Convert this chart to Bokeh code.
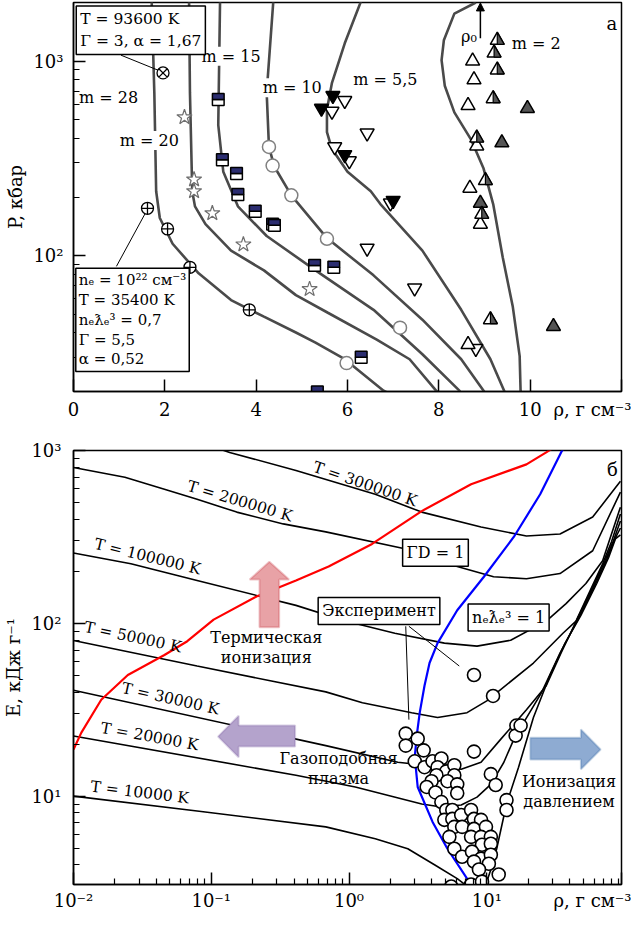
from bokeh.plotting import figure
from bokeh.layouts import column
from bokeh.models import FixedTicker, Label, PolyAnnotation, Arrow, NormalHead
from bokeh.embed import file_html
from bokeh.resources import INLINE

FONT = "DejaVu Serif"

# ---------------- panel а : isentropes  (rho, g/cm3 ; P, kbar) ----------------
isA_rho = [1.71, 1.77, 1.81, 1.89, 2.17, 2.74, 3.45, 4.17, 4.87, 5.30, 5.94, 6.79, 7.2]
isA_P = [2100, 688, 214, 156, 115, 81, 59, 48.5, 40.2, 35.7, 29.3, 20.2, 18]
isB_rho = [2.53, 2.55, 2.60, 2.66, 2.89, 3.45, 4.17, 4.87, 5.57, 6.64, 7.36, 7.94, 8.2]
isB_P = [2100, 688, 214, 179, 145, 106, 83.9, 62.6, 50.8, 37.0, 29.3, 20.2, 18]
isC_rho = [3.21, 3.17, 3.28, 3.60, 4.23, 5.30, 6.57, 7.64, 8.45, 8.6]
isC_P = [2100, 468, 270, 179, 126, 83.9, 52.6, 31.1, 20.2, 18]
isD_rho = [4.38, 4.23, 4.28, 4.40, 4.77, 5.55, 6.57, 7.64, 8.49, 8.98, 9.1]
isD_P = [2100, 688, 362, 286, 204, 123, 79.1, 46.8, 29.3, 20.2, 18]
isE_rho = [6.32, 5.94, 5.66, 5.55, 5.55, 5.66, 6.00, 6.51, 6.72, 7.64, 8.49, 9.13, 9.43, 9.5]
isE_P = [2100, 1234, 773, 564, 431, 353, 270, 214, 184, 106, 52.6, 29.3, 20.2, 18]
isF_rho = [8.81, 8.34, 8.11, 8.06, 8.13, 8.34, 8.70, 8.98, 9.19, 9.40, 9.62, 9.77, 9.79, 9.8]
isF_P = [2000, 1753, 1278, 1012, 747, 545, 397, 280, 184, 97.7, 54.5, 30.4, 20.2, 18]

# experimental points, panel а
otimes_rho = [1.96]
otimes_P = [869]
oplus_rho = [1.62, 2.06, 2.55, 3.85]
oplus_P = [175, 137, 87.0, 52.6]
star_rho = [2.43, 2.64, 2.64, 3.04, 3.72, 5.17]
star_P = [514, 246, 214, 165, 114, 67.2]
hsq_rho = [3.17, 3.26, 3.57, 3.60, 3.98, 4.36, 4.40, 5.28, 5.70, 6.30, 5.34]
hsq_P = [634, 311, 264, 206, 169, 145, 143, 89.0, 87.0, 30.0, 19.9]
ocirc_rho = [4.28, 4.36, 4.77, 5.55, 7.15, 5.98]
ocirc_P = [362, 290, 204, 122, 42.6, 28.0]
dtri_open_rho = [5.94, 5.66, 6.43, 5.72, 6.04, 6.94, 6.43, 7.47, 8.81]
dtri_open_P = [626, 551, 426, 362, 307, 186, 109, 68.0, 33.3]
dtri_fill_rho = [5.68, 5.43, 5.94, 7.00]
dtri_fill_P = [664, 571, 330, 192]
utri_open_rho = [8.74, 8.77, 8.64, 8.83, 8.68, 8.91, 8.64]
utri_open_P = [1000, 801, 591, 366, 222, 145, 34.9]
utri_half_rho = [9.28, 9.21, 9.28, 9.19, 8.83, 9.02, 8.94, 9.13]
utri_half_P = [1278, 1099, 900, 641, 402, 243, 163, 46.8]
utri_fill_rho = [9.94, 9.38, 8.91, 10.51]
utri_fill_P = [571, 380, 186, 43.2]

a_xticks = [0, 2, 4, 6, 8, 10, 12]
a_xlabels = {12: "ρ, г см⁻³"}
a_yticks = [100, 1000]
a_ylabels = {100: "10²", 1000: "10³"}

# ---------------- panel б : isotherms (rho, g/cm3 ; E, kJ/g) ----------------
T300_rho = [0.0345, 0.136, 0.412, 1.55, 3.37, 9.08, 19.4, 34.0, 58.7, 93.3]
T300_E = [1410, 975, 767, 558, 440, 361, 320, 329, 412, 664]
T200_rho = [0.0100, 0.0236, 0.0457, 0.0789, 0.153, 0.333, 0.678, 2.54, 6.10, 11.2, 19.4, 34.0, 58.7, 93.3]
T200_E = [798, 700, 597, 523, 440, 376, 338, 270, 213, 186, 181, 194, 263, 574]
T100_rho = [0.0100, 0.0261, 0.0789, 0.213, 0.412, 0.942, 2.15, 4.92, 8.49, 14.9, 27.0, 37.6, 52.4, 69.3, 93.3]
T100_E = [255, 221, 177, 145, 127, 103, 87.6, 76.8, 73.8, 79.8, 103, 130, 170, 230, 470]
T50_rho = [0.0100, 0.0789, 0.678, 1.25, 2.85, 4.39, 7.19, 10.0, 21.8, 35.7, 44.4, 56.8, 69.3, 80.4, 93.3]
T50_E = [79.5, 56.6, 40.1, 34.7, 30.4, 28.5, 30.4, 35.6, 58.9, 87.6, 103, 157, 221, 296, 429]
T30_rho = [0.0100, 0.678, 2.26, 6.52, 9.08, 12.6, 19.4, 27.0, 34.6, 45.1, 58.7, 71.6, 83.0, 93.3]
T30_E = [41.0, 19.6, 15.7, 14.3, 15.7, 21.3, 31.6, 43.5, 67.3, 105, 161, 227, 300, 391]
T20_rho = [0.0100, 0.412, 1.11, 3.37, 4.68, 6.52, 8.49, 10.7, 13.3, 15.7, 18.5, 24.9, 34.0, 46.6, 60.7, 74.0, 84.4, 93.3]
T20_E = [22.3, 13.2, 11.3, 9.00, 8.65, 8.88, 9.87, 11.7, 15.7, 21.3, 26.6, 39.6, 67.3, 108, 165, 233, 304, 356]
T10_rho = [0.0100, 0.0789, 0.678, 1.55, 2.67, 4.17, 6.10, 8.07, 9.53, 10.7, 11.8, 13.9, 17.0, 21.8, 28.8, 37.0, 48.2, 62.8, 76.5, 85.8, 93.3]
T10_E = [10.0, 8.20, 6.64, 5.66, 4.96, 4.01, 3.33, 2.81, 2.85, 3.76, 4.96, 9.00, 14.7, 28.5, 50.2, 76.8, 111, 170, 240, 308, 325]

red_rho = [0.0100, 0.0114, 0.0159, 0.0248, 0.0457, 0.0670, 0.104, 0.213, 0.412, 0.711, 1.47, 3.37, 7.69, 19.4, 27.0, 33.0]
red_E = [18.6, 23.3, 36.1, 50.2, 65.5, 78.8, 105, 143, 177, 213, 288, 446, 638, 831, 975, 1082]
blue_rho = [38.0, 34.6, 24.4, 15.7, 9.53, 6.10, 4.39, 3.84, 3.53, 3.26, 3.10, 3.00, 3.15, 4.04, 5.18, 7.43, 8.0]
blue_E = [1100, 975, 558, 316, 186, 119, 76.8, 58.9, 43.5, 30.4, 22.4, 16.8, 11.3, 7.09, 4.96, 3.20, 2.9]

exp_rho = [2.58, 2.58, 3.15, 3.48, 3.00, 3.53, 4.04, 4.68, 4.39, 5.08, 5.81, 5.81, 4.31, 3.97, 3.66,
           5.18, 6.10, 6.10, 4.24, 4.68, 5.08, 5.62, 4.92, 5.62, 6.52, 7.69, 8.07, 9.08, 5.81, 6.62,
           8.07, 9.86, 5.35, 7.69, 9.08, 10.7, 9.23, 10.7, 5.81, 6.62, 7.81, 9.08, 10.7, 8.07, 10.35,
           8.77, 5.52, 7.69, 9.23, 12.2, 8.07, 10.7, 11.6, 13.9, 13.9, 16.4, 16.2, 17.6, 11.1, 8.07]
exp_E = [23.0, 19.6, 21.5, 18.4, 15.9, 14.7, 15.9, 16.5, 14.7, 13.9, 15.1, 13.2, 13.2, 12.2, 11.3,
         12.2, 11.7, 10.4, 10.5, 9.24, 8.31, 8.31, 7.29, 7.38, 7.78, 8.31, 7.38, 7.29, 6.64, 6.64,
         6.46, 6.64, 5.81, 5.81, 5.81, 5.81, 5.23, 5.30, 4.96, 4.46, 4.77, 4.35, 4.58, 4.18, 4.06,
         3.76, 3.00, 3.08, 3.20, 3.52, 18.1, 13.4, 11.6, 9.48, 8.31, 25.6, 22.4, 25.6, 38.0, 50.2]

b_xticks = [0.01, 0.1, 1, 10, 95]
b_xlabels = {0.01: "10⁻²", 0.1: "10⁻¹", 1: "10⁰", 10: "10¹", 95: "ρ, г см⁻³"}
b_yticks = [10, 100, 1000]
b_ylabels = {10: "10¹", 100: "10²", 1000: "10³"}


def style_axis(ax, size="18px"):
    ax.major_tick_in = 12
    ax.major_tick_out = 0
    ax.minor_tick_in = 6
    ax.minor_tick_out = 0
    ax.major_tick_line_color = "black"
    ax.minor_tick_line_color = "black"
    ax.major_tick_line_width = 1.5
    ax.minor_tick_line_width = 1.2
    ax.axis_line_color = "black"
    ax.axis_line_width = 1.5
    ax.major_label_text_font = FONT
    ax.major_label_text_font_size = size
    ax.major_label_text_color = "black"
    ax.axis_label_text_font = FONT
    ax.axis_label_text_font_size = "18px"
    ax.axis_label_text_font_style = "normal"
    ax.axis_label_text_color = "black"


def lab(p, x, y, text, size="16px", align="center", baseline="middle", angle=0.0,
        style="normal", bg=None, border=None, pad=0, lh=1.1, color="black"):
    kw = dict(x=x, y=y, text=text, text_font=FONT, text_font_size=size, text_align=align,
              text_baseline=baseline, angle=angle, text_font_style=style, text_color=color,
              text_line_height=lh)
    if bg is not None:
        kw["background_fill_color"] = bg
    if border is not None:
        kw["border_line_color"] = border
        kw["border_line_width"] = 1.5
    if pad:
        kw["padding"] = pad
    p.add_layout(Label(**kw))


# =============================== panel а ===============================
pa = figure(width=631, height=422, x_range=(0, 12), y_range=(20, 2000), y_axis_type="log",
            output_backend="svg", toolbar_location=None,
            min_border_left=63, min_border_right=3, min_border_top=2, min_border_bottom=28)
pa.grid.visible = False
pa.outline_line_color = "black"
pa.outline_line_width = 1.5
style_axis(pa.xaxis[0])
style_axis(pa.yaxis[0])
pa.xaxis.ticker = FixedTicker(ticks=a_xticks)
pa.xaxis.major_label_overrides = a_xlabels
pa.xaxis.minor_tick_line_color = None
pa.xaxis.major_label_standoff = 7
pa.yaxis.ticker = FixedTicker(ticks=a_yticks,
                              minor_ticks=[20, 30, 40, 50, 60, 70, 80, 90,
                                           200, 300, 400, 500, 600, 700, 800, 900, 2000])
pa.yaxis.major_label_overrides = a_ylabels
pa.yaxis.major_label_standoff = 10
pa.yaxis.axis_label = "P, кбар"
pa.yaxis.axis_label_standoff = 4

curve_col = "#4a4a4a"
for xs, ys in [(isA_rho, isA_P), (isB_rho, isB_P), (isC_rho, isC_P),
               (isD_rho, isD_P), (isE_rho, isE_P), (isF_rho, isF_P)]:
    pa.line(xs, ys, line_color=curve_col, line_width=2.6)

pa.segment(x0=[1.04, 0.94], y0=[1072, 88.0], x1=[1.89, 1.62], y1=[890, 173],
           line_color="black", line_width=1)

pa.scatter(otimes_rho, otimes_P, marker="circle_x", size=12, fill_color="white",
           line_color="black", line_width=1.3)
pa.scatter(oplus_rho, oplus_P, marker="circle_cross", size=12, fill_color="white",
           line_color="black", line_width=1.3)
pa.scatter(star_rho, star_P, marker="star", size=16, fill_color="white",
           line_color="#6e6e6e", line_width=1.2)
pa.scatter(ocirc_rho, ocirc_P, marker="circle", size=13, fill_color="white",
           line_color="#808080", line_width=1.5)

hw = 0.128
hf = 1.073
pa.quad(left=[x - hw for x in hsq_rho], right=[x + hw for x in hsq_rho],
        bottom=[y / hf for y in hsq_P], top=hsq_P,
        fill_color="white", line_color="black", line_width=1.5)
pa.quad(left=[x - hw for x in hsq_rho], right=[x + hw for x in hsq_rho],
        bottom=hsq_P, top=[y * hf for y in hsq_P],
        fill_color="#2b2d70", line_color="black", line_width=1.5)

pa.scatter(dtri_open_rho, dtri_open_P, marker="inverted_triangle", size=14, fill_color="white",
           line_color="black", line_width=1.5)
pa.scatter(dtri_fill_rho, dtri_fill_P, marker="inverted_triangle", size=14, fill_color="black",
           line_color="black", line_width=1.5)
pa.scatter(utri_open_rho, utri_open_P, marker="triangle", size=14, fill_color="white",
           line_color="black", line_width=1.5)
pa.scatter(utri_fill_rho, utri_fill_P, marker="triangle", size=14, fill_color="#555555",
           line_color="black", line_width=1.5)
tr = 7.0
tdx = tr / 47.0
fa = 10 ** (tr * 1.1547 / 197.0)
fb = 10 ** (tr * 0.5774 / 197.0)
pa.scatter(utri_half_rho, utri_half_P, marker="triangle", size=14, fill_color="white",
           line_color="black", line_width=1.5)
pa.patches(xs=[[x, x, x + tdx] for x in utri_half_rho],
           ys=[[y * fa, y / fb, y / fb] for y in utri_half_P],
           fill_color="#555555", line_color="black", line_width=1.2)

pa.add_layout(Arrow(end=NormalHead(size=8, fill_color="black", line_color="black"),
                    x_start=8.91, y_start=1309, x_end=8.91, y_end=1990,
                    line_color="black", line_width=1.5))

lab(pa, 0.77, 649, "m = 28")
lab(pa, 1.66, 390, "m = 20", bg="white")
lab(pa, 3.45, 1060, "m = 15", bg="white")
lab(pa, 4.79, 729, "m = 10", bg="white")
lab(pa, 6.83, 801, "m = 5,5")
lab(pa, 10.13, 1234, "m = 2")
lab(pa, 8.66, 1340, "ρ₀", size="16px")
lab(pa, 11.79, 1560, "а", size="18px")
lab(pa, 0.06, 1920, "T = 93600 K\nΓ = 3, α = 1,67", size="15.5px", align="left", baseline="top",
    bg="white", border="black", pad=4, lh=1.25)
lab(pa, 0.05, 86, "nₑ = 10²² см⁻³\nT = 35400 K\nnₑƛₑ³ = 0,7\nΓ = 5,5\nα = 0,52",
    size="15px", align="left", baseline="top", bg="white", border="black", pad=3, lh=1.1)

# =============================== panel б ===============================
pb = figure(width=631, height=491, x_range=(0.01, 95), y_range=(3.08, 1000),
            x_axis_type="log", y_axis_type="log",
            output_backend="svg", toolbar_location=None,
            min_border_left=67, min_border_right=10, min_border_top=28, min_border_bottom=28)
pb.grid.visible = False
pb.outline_line_color = "black"
pb.outline_line_width = 1.5
style_axis(pb.xaxis[0])
style_axis(pb.yaxis[0])
pb.xaxis.ticker = FixedTicker(ticks=b_xticks,
                              minor_ticks=[0.02, 0.03, 0.04, 0.05, 0.06, 0.07, 0.08, 0.09,
                                           0.2, 0.3, 0.4, 0.5, 0.6, 0.7, 0.8, 0.9,
                                           2, 3, 4, 5, 6, 7, 8, 9,
                                           20, 30, 40, 50, 60, 70, 80, 90])
pb.xaxis.major_label_overrides = b_xlabels
pb.xaxis.major_label_standoff = 5
pb.yaxis.ticker = FixedTicker(ticks=b_yticks,
                              minor_ticks=[4, 5, 6, 7, 8, 9, 20, 30, 40, 50, 60, 70, 80, 90,
                                           200, 300, 400, 500, 600, 700, 800, 900])
pb.yaxis.major_label_overrides = b_ylabels
pb.yaxis.major_label_standoff = 12
pb.yaxis.axis_label = "E, кДж г⁻¹"
pb.yaxis.axis_label_standoff = 4

for xs, ys in [(T300_rho, T300_E), (T200_rho, T200_E), (T100_rho, T100_E), (T50_rho, T50_E),
               (T30_rho, T30_E), (T20_rho, T20_E), (T10_rho, T10_E)]:
    pb.line(xs, ys, line_color="black", line_width=1.6)

pb.line(red_rho, red_E, line_color="#ff0000", line_width=2.2)
pb.line(blue_rho, blue_E, line_color="#0000ff", line_width=2.2)

pb.segment(x0=[2.58, 2.72], y0=[96.1, 96.1], x1=[2.72, 6.31], y1=[27.7, 56.6],
           line_color="black", line_width=1)

pb.scatter(exp_rho, exp_E, marker="circle", size=13, fill_color="white",
           line_color="black", line_width=1.6)

pink_arrow_x = [0.264, 0.367, 0.311, 0.311, 0.224, 0.224, 0.190]
pink_arrow_y = [227, 179, 179, 94.8, 94.8, 179, 179]
purple_arrow_x = [0.112, 0.158, 0.158, 0.406, 0.406, 0.158, 0.158]
purple_arrow_y = [22.1, 29.2, 25.6, 25.6, 19.4, 19.4, 16.8]
blue_arrow_x = [20.7, 48.2, 48.2, 67.0, 48.2, 48.2, 20.7]
blue_arrow_y = [21.8, 21.8, 24.3, 18.6, 14.3, 16.3, 16.3]
pb.add_layout(PolyAnnotation(xs=pink_arrow_x, ys=pink_arrow_y, fill_color="#e8a2a6",
                             fill_alpha=1, line_color="#c9434d", line_width=2))
pb.add_layout(PolyAnnotation(xs=purple_arrow_x, ys=purple_arrow_y, fill_color="#b4a3cc",
                             fill_alpha=1, line_color="#8264a6", line_width=2))
pb.add_layout(PolyAnnotation(xs=blue_arrow_x, ys=blue_arrow_y, fill_color="#8eabd2",
                             fill_alpha=1, line_color="#3a6da6", line_width=2))

lab(pb, 1.31, 638, "T = 300000 K", size="15.5px", angle=-0.33)
lab(pb, 0.161, 509, "T = 200000 K", size="15.5px", angle=-0.29)
lab(pb, 0.0345, 243, "T = 100000 K", size="15.5px", angle=-0.24)
lab(pb, 0.0270, 83.1, "T = 50000 K", size="15.5px", angle=-0.21)
lab(pb, 0.0506, 36.6, "T = 30000 K", size="15.5px", angle=-0.22)
lab(pb, 0.0357, 22.1, "T = 20000 K", size="15.5px", angle=-0.18)
lab(pb, 0.0303, 10.5, "T = 10000 K", size="15.5px", angle=-0.12)

lab(pb, 1.65, 118, "Эксперимент", size="16px", bg="white", border="black", pad=4)
lab(pb, 4.24, 256, "ΓD = 1", size="16px", bg="white", border="black", pad=4)
lab(pb, 14.4, 108, "nₑƛₑ³ = 1", size="16px", bg="white", border="black", pad=4)

lab(pb, 0.251, 72.8, "Термическая\nионизация", size="16px", lh=1.05)
lab(pb, 0.840, 14.5, "Газоподобная\nплазма", size="16px", lh=1.05)
lab(pb, 39.5, 10.7, "Ионизация\nдавлением", size="16px", lh=1.05)
lab(pb, 81.7, 778, "б", size="18px")

layout = column(pa, pb)
open("out.html", "w").write(file_html(layout, INLINE))
